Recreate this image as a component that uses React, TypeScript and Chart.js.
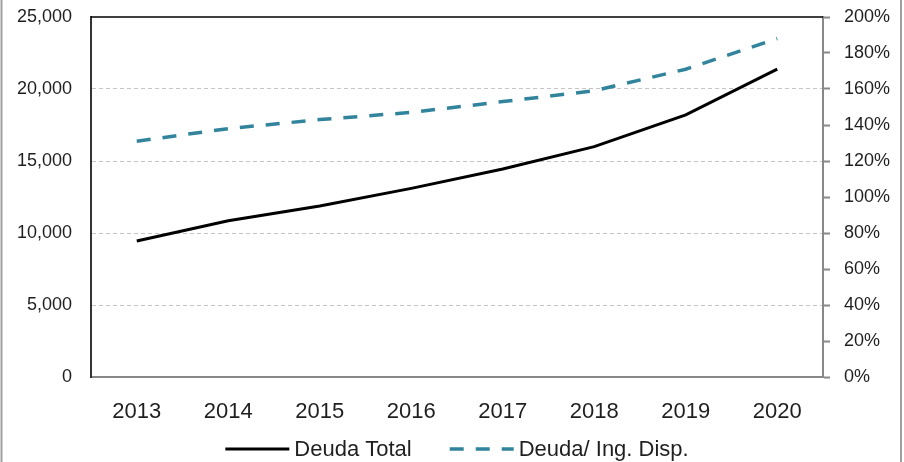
import React, { useEffect, useRef } from "react";
import { Chart, registerables } from "chart.js";

Chart.register(...registerables);

const years = ["2013", "2014", "2015", "2016", "2017", "2018", "2019", "2020"];
const deudaTotal = [9450, 10850, 11880, 13100, 14450, 16000, 18200, 21380];
const deudaIngDisp = [131, 138, 143, 147, 153, 159, 171, 188];
const seriesNames = ["Deuda Total", "Deuda/ Ing. Disp."];
const leftMax = 25000;
const leftStep = 5000;
const rightMax = 200;
const rightStep = 20;

const FONT = "'Liberation Sans', Arial, sans-serif";
const TEXT = "#1f1f1f";
const TEAL = "#31849b";

const framePlugin = {
  id: "frame",
  afterDraw(chart: any) {
    const { ctx, chartArea, width, height } = chart;
    ctx.save();
    // top border of plot area
    ctx.strokeStyle = "#000";
    ctx.lineWidth = 1.5;
    ctx.beginPath();
    ctx.moveTo(chartArea.left, chartArea.top);
    ctx.lineTo(chartArea.right, chartArea.top);
    ctx.stroke();
    // outer frame lines
    ctx.strokeStyle = "#a0a0a0";
    ctx.lineWidth = 2;
    ctx.beginPath();
    ctx.moveTo(1.5, 0);
    ctx.lineTo(1.5, height);
    ctx.moveTo(width - 3, 0);
    ctx.lineTo(width - 3, height);
    ctx.stroke();

    // legend
    const ds = chart.data.datasets;
    ctx.font = `22px ${FONT}`;
    ctx.textBaseline = "middle";
    const sample = 64;
    const gapText = 5;
    const gapItem = 38;
    const widths = ds.map((d: any) => ctx.measureText(d.label).width);
    const total = widths.reduce((a: number, w: number) => a + sample + gapText + w, 0) + gapItem * (ds.length - 1);
    let x = (chartArea.left + chartArea.right) / 2 - total / 2;
    const y = chart.scales.x.bottom + 22;
    ds.forEach((d: any, i: number) => {
      ctx.strokeStyle = d.borderColor;
      ctx.lineWidth = d.borderWidth;
      ctx.setLineDash(d.borderDash || []);
      ctx.lineCap = "butt";
      ctx.beginPath();
      ctx.moveTo(x, y);
      ctx.lineTo(x + sample, y);
      ctx.stroke();
      ctx.setLineDash([]);
      x += sample + gapText;
      ctx.fillStyle = TEXT;
      ctx.textAlign = "left";
      ctx.fillText(d.label, x, y + 1);
      x += widths[i] + gapItem;
    });
    ctx.restore();
  },
};

export default function App() {
  const ref = useRef<HTMLCanvasElement>(null);
  useEffect(() => {
    document.body.style.margin = "0";
    const chart = new Chart(ref.current!, {
      type: "line",
      data: {
        labels: years,
        datasets: [
          {
            label: seriesNames[0],
            data: deudaTotal,
            yAxisID: "y",
            borderColor: "#000000",
            backgroundColor: "#000000",
            borderWidth: 3,
            pointRadius: 0,
            tension: 0,
          },
          {
            label: seriesNames[1],
            data: deudaIngDisp,
            yAxisID: "y1",
            borderColor: TEAL,
            backgroundColor: TEAL,
            borderWidth: 3.5,
            borderDash: [14, 12],
            pointRadius: 0,
            tension: 0,
          },
        ],
      },
      options: {
        animation: false,
        responsive: true,
        maintainAspectRatio: false,
        layout: { padding: { top: 17, bottom: 35, left: 0, right: 0 } },
        plugins: { legend: { display: false }, tooltip: { enabled: false } },
        scales: {
          x: {
            offset: true,
            grid: { display: false },
            border: { display: true, color: "#888888", width: 2 },
            ticks: { color: TEXT, font: { family: FONT, size: 22 }, padding: 14, maxRotation: 0 },
            afterFit: (s: any) => {
              s.height = 50;
            },
          },
          y: {
            position: "left",
            min: 0,
            max: leftMax,
            grid: {
              drawTicks: false,
              color: (c: any) => (c.tick && (c.tick.value === 0 || c.tick.value === leftMax) ? "rgba(0,0,0,0)" : "#c4c4c4"),
              lineWidth: 1,
            },
            border: { display: true, color: "#333333", width: 2, dash: [4, 3] },
            ticks: {
              stepSize: leftStep,
              color: TEXT,
              font: { family: FONT, size: 18 },
              padding: 19,
              callback: (v: any) => Number(v).toLocaleString("en-US"),
            },
            afterFit: (s: any) => {
              s.width = 91;
              s.paddingTop = 0;
              s.paddingBottom = 0;
            },
          },
          y1: {
            position: "right",
            min: 0,
            max: rightMax,
            grid: { drawOnChartArea: false, drawTicks: true, tickLength: 7, tickColor: "#888888", tickWidth: 2 },
            border: { display: true, color: "#888888", width: 2 },
            ticks: {
              stepSize: rightStep,
              color: TEXT,
              font: { family: FONT, size: 18 },
              padding: 14,
              callback: (v: any) => `${v}%`,
            },
            afterFit: (s: any) => {
              s.width = 81;
              s.paddingTop = 0;
              s.paddingBottom = 0;
            },
          },
        },
      },
      plugins: [framePlugin],
    });
    return () => chart.destroy();
  }, []);
  return (
    <div style={{ position: "absolute", left: 0, top: 0, width: 904, height: 462, background: "#fff" }}>
      <canvas ref={ref} />
    </div>
  );
}
